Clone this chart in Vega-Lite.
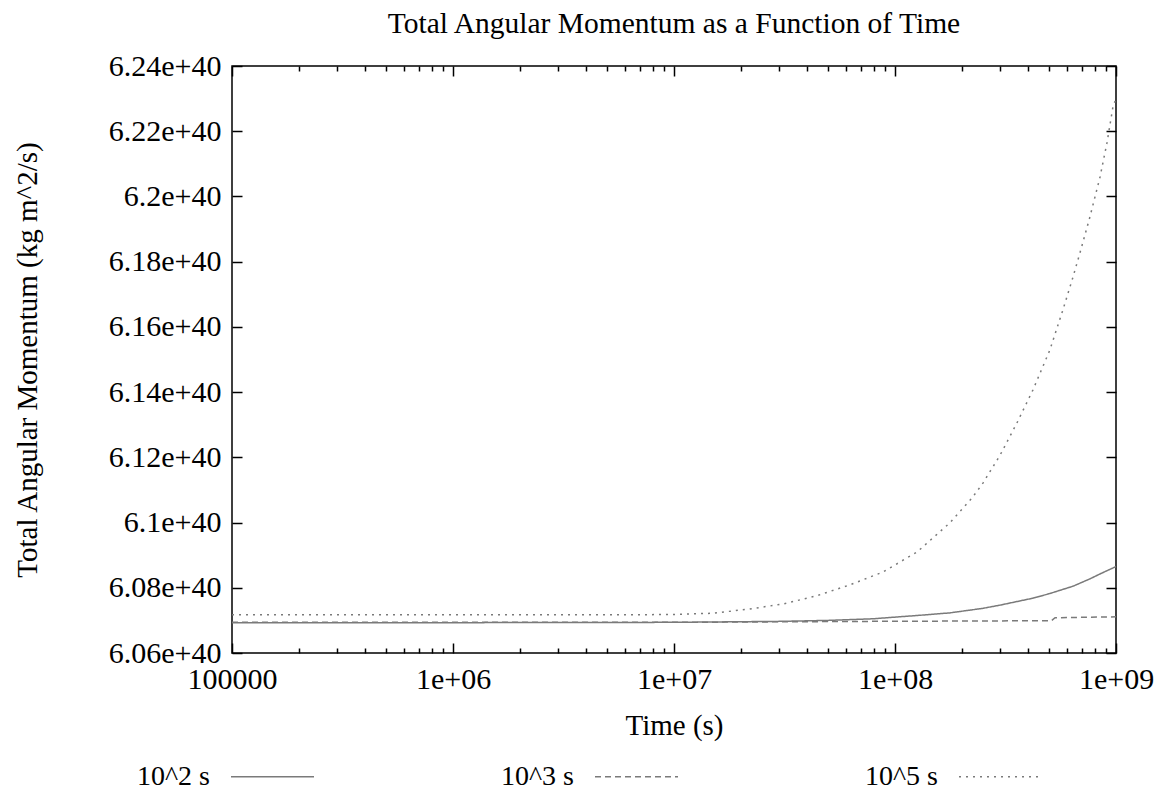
{
  "$schema": "https://vega.github.io/schema/vega-lite/v6.json",
  "width": 884,
  "height": 587,
  "autosize": {"type": "none"},
  "padding": {"left": 232, "top": 66, "right": 42, "bottom": 142},
  "background": "white",
  "config": {
    "font": "Liberation Serif",
    "view": {"stroke": "black", "strokeWidth": 1.5},
    "legend": {"padding": 0},
    "axis": {
      "labelFont": "Liberation Serif",
      "titleFont": "Liberation Serif",
      "labelColor": "black",
      "titleColor": "black",
      "labelFontSize": 30,
      "titleFontSize": 29,
      "titleFontWeight": "normal",
      "domain": false,
      "grid": false,
      "tickColor": "black",
      "tickWidth": 1.5
    }
  },
  "title": {
    "text": "Total Angular Momentum as a Function of Time",
    "font": "Liberation Serif",
    "fontSize": 29.5,
    "fontWeight": "normal",
    "color": "black",
    "anchor": "middle",
    "offset": 12
  },
  "data": {
    "values": [
      {"series": "10^2 s", "t": 100000, "L": 6.0693e40},
      {"series": "10^2 s", "t": 1000000, "L": 6.0693e40},
      {"series": "10^2 s", "t": 10000000, "L": 6.0694e40},
      {"series": "10^2 s", "t": 30000000, "L": 6.0697e40},
      {"series": "10^2 s", "t": 50000000, "L": 6.0700e40},
      {"series": "10^2 s", "t": 80000000, "L": 6.0705e40},
      {"series": "10^2 s", "t": 100000000, "L": 6.0710e40},
      {"series": "10^2 s", "t": 126000000, "L": 6.0715e40},
      {"series": "10^2 s", "t": 177000000, "L": 6.0723e40},
      {"series": "10^2 s", "t": 250000000, "L": 6.0737e40},
      {"series": "10^2 s", "t": 300000000, "L": 6.0747e40},
      {"series": "10^2 s", "t": 420000000, "L": 6.0768e40},
      {"series": "10^2 s", "t": 500000000, "L": 6.0782e40},
      {"series": "10^2 s", "t": 640000000, "L": 6.0805e40},
      {"series": "10^2 s", "t": 760000000, "L": 6.0827e40},
      {"series": "10^2 s", "t": 850000000, "L": 6.0843e40},
      {"series": "10^2 s", "t": 1000000000, "L": 6.0865e40},
      {"series": "10^3 s", "t": 100000, "L": 6.0694e40},
      {"series": "10^3 s", "t": 10000000, "L": 6.0694e40},
      {"series": "10^3 s", "t": 80000000, "L": 6.0697e40},
      {"series": "10^3 s", "t": 510000000, "L": 6.0699e40},
      {"series": "10^3 s", "t": 530000000, "L": 6.0708e40},
      {"series": "10^3 s", "t": 1000000000, "L": 6.0711e40},
      {"series": "10^5 s", "t": 100000, "L": 6.0717e40},
      {"series": "10^5 s", "t": 1000000, "L": 6.0717e40},
      {"series": "10^5 s", "t": 5000000, "L": 6.0717e40},
      {"series": "10^5 s", "t": 10000000, "L": 6.0718e40},
      {"series": "10^5 s", "t": 15000000, "L": 6.0722e40},
      {"series": "10^5 s", "t": 22000000, "L": 6.0735e40},
      {"series": "10^5 s", "t": 31000000, "L": 6.0750e40},
      {"series": "10^5 s", "t": 44000000, "L": 6.0775e40},
      {"series": "10^5 s", "t": 62500000, "L": 6.0809e40},
      {"series": "10^5 s", "t": 88000000, "L": 6.0848e40},
      {"series": "10^5 s", "t": 126000000, "L": 6.0910e40},
      {"series": "10^5 s", "t": 177000000, "L": 6.0999e40},
      {"series": "10^5 s", "t": 223000000, "L": 6.1075e40},
      {"series": "10^5 s", "t": 250000000, "L": 6.1121e40},
      {"series": "10^5 s", "t": 299000000, "L": 6.1207e40},
      {"series": "10^5 s", "t": 356000000, "L": 6.1305e40},
      {"series": "10^5 s", "t": 421000000, "L": 6.1407e40},
      {"series": "10^5 s", "t": 502000000, "L": 6.1529e40},
      {"series": "10^5 s", "t": 575000000, "L": 6.1652e40},
      {"series": "10^5 s", "t": 639000000, "L": 6.1753e40},
      {"series": "10^5 s", "t": 687000000, "L": 6.1827e40},
      {"series": "10^5 s", "t": 762000000, "L": 6.1937e40},
      {"series": "10^5 s", "t": 847000000, "L": 6.2060e40},
      {"series": "10^5 s", "t": 910000000, "L": 6.2164e40},
      {"series": "10^5 s", "t": 969000000, "L": 6.2275e40},
      {"series": "10^5 s", "t": 1000000000, "L": 6.2300e40}
    ]
  },
  "layer": [
    {
      "mark": {"type": "line", "strokeWidth": 1.5, "color": "#7a7a7a", "clip": true},
      "encoding": {
        "x": {
          "field": "t",
          "type": "quantitative",
          "title": "Time (s)",
          "scale": {"type": "log", "domain": [100000, 1000000000], "nice": false},
          "axis": {
            "orient": "bottom",
            "values": [100000, 200000, 300000, 400000, 500000, 600000, 700000, 800000, 900000,
                       1000000, 2000000, 3000000, 4000000, 5000000, 6000000, 7000000, 8000000, 9000000,
                       10000000, 20000000, 30000000, 40000000, 50000000, 60000000, 70000000, 80000000, 90000000,
                       100000000, 200000000, 300000000, 400000000, 500000000, 600000000, 700000000, 800000000, 900000000,
                       1000000000],
            "labelExpr": "datum.value==100000?'100000':datum.value==1000000?'1e+06':datum.value==10000000?'1e+07':datum.value==100000000?'1e+08':datum.value==1000000000?'1e+09':''",
            "tickSize": {"condition": {"test": "datum.value==100000||datum.value==1000000||datum.value==10000000||datum.value==100000000||datum.value==1000000000", "value": -10}, "value": -5},
            "labelPadding": 21,
            "labelOverlap": false,
            "labelFlush": false,
            "titlePadding": 12
          }
        },
        "y": {
          "field": "L",
          "type": "quantitative",
          "title": "Total Angular Momentum (kg m^2/s)",
          "scale": {"domain": [6.06e40, 6.24e40], "nice": false, "zero": false},
          "axis": {
            "orient": "left",
            "values": [6.06e40, 6.08e40, 6.10e40, 6.12e40, 6.14e40, 6.16e40, 6.18e40, 6.20e40, 6.22e40, 6.24e40],
            "labelExpr": "format(datum.value/1e40,'~g')+'e+40'",
            "tickSize": -10,
            "labelPadding": 21,
            "labelOverlap": false,
            "labelFlush": false,
            "titlePadding": 66
          }
        },
        "strokeDash": {
          "field": "series",
          "type": "nominal",
          "scale": {"domain": ["10^2 s", "10^3 s", "10^5 s"], "range": [[1, 0], [6, 4], [2, 5]]},
          "legend": {
            "orient": "none",
            "legendX": -2,
            "legendY": 668,
            "direction": "horizontal",
            "columns": 3,
            "title": null,
            "symbolType": "stroke",
            "symbolSize": 6889,
            "symbolStrokeWidth": 1.5,
            "symbolStrokeColor": "#7a7a7a",
            "labelFont": "Liberation Serif",
            "labelFontSize": 28,
            "labelColor": "black",
            "labelAlign": "right",
            "labelOffset": -105,
            "columnPadding": 183
          }
        }
      }
    },
    {
      "mark": {"type": "line", "opacity": 0},
      "encoding": {
        "x": {
          "field": "t",
          "type": "quantitative",
          "scale": {"type": "log", "domain": [100000, 1000000000], "nice": false},
          "axis": {
            "orient": "top",
            "title": null,
            "labels": false,
            "values": [100000, 200000, 300000, 400000, 500000, 600000, 700000, 800000, 900000,
                       1000000, 2000000, 3000000, 4000000, 5000000, 6000000, 7000000, 8000000, 9000000,
                       10000000, 20000000, 30000000, 40000000, 50000000, 60000000, 70000000, 80000000, 90000000,
                       100000000, 200000000, 300000000, 400000000, 500000000, 600000000, 700000000, 800000000, 900000000,
                       1000000000],
            "tickSize": {"condition": {"test": "datum.value==100000||datum.value==1000000||datum.value==10000000||datum.value==100000000||datum.value==1000000000", "value": -10}, "value": -5}
          }
        },
        "y": {
          "field": "L",
          "type": "quantitative",
          "scale": {"domain": [6.06e40, 6.24e40], "nice": false, "zero": false},
          "axis": {
            "orient": "right",
            "title": null,
            "labels": false,
            "values": [6.06e40, 6.08e40, 6.10e40, 6.12e40, 6.14e40, 6.16e40, 6.18e40, 6.20e40, 6.22e40, 6.24e40],
            "tickSize": -10
          }
        }
      }
    }
  ],
  "resolve": {"axis": {"x": "independent", "y": "independent"}}
}
